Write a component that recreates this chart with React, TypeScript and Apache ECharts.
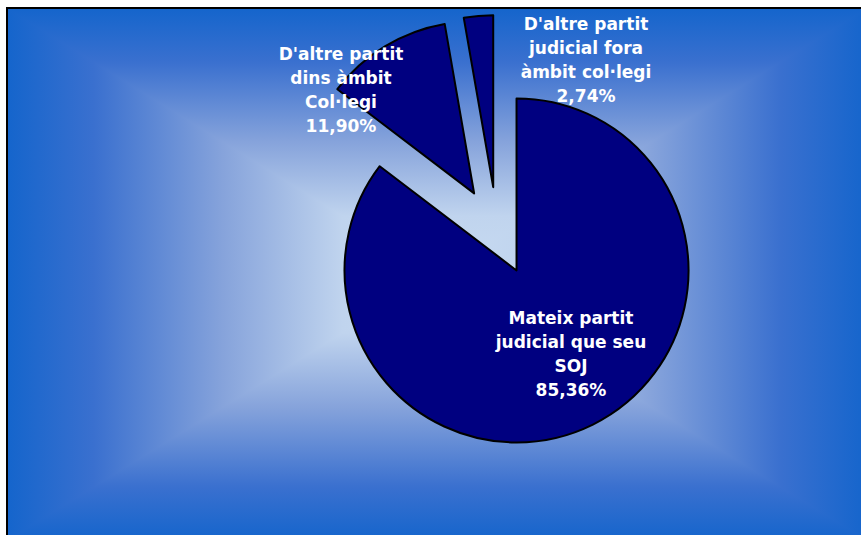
import React, { useEffect, useRef } from "react";
import * as echarts from "echarts";

const categories: string[] = [
  "Mateix partit\njudicial que seu\nSOJ",
  "D'altre partit\ndins àmbit\nCol·legi",
  "D'altre partit\njudicial fora\nàmbit col·legi",
];
const values: number[] = [85.36, 11.9, 2.74];

const W = 861;
const H = 535;

export default function App() {
  const ref = useRef<HTMLDivElement>(null);
  useEffect(() => {
    if (!ref.current) return;
    const chart = echarts.init(ref.current, undefined, { renderer: "svg" });
    const L = 8, T = 9, R = 866, B = 540;
    const cx = (L + R) / 2, cy = (T + B) / 2;
    const edge = "#1565cc";
    const stops = (rev: boolean) => {
      const s = [
        { offset: 0, color: edge },
        { offset: 0.2, color: "#3a70cf" },
        { offset: 0.5, color: "#86a3db" },
        { offset: 0.78, color: "#c0d4ee" },
        { offset: 1, color: "#c8dbf1" },
      ];
      return rev ? s.map((c) => ({ offset: 1 - c.offset, color: c.color })).reverse() : s;
    };
    const labelPos = [
      [571, 354],
      [341, 90],
      [586, 60],
    ];
    const labelTexts = categories.map(
      (c, i) => c + "\n" + values[i].toFixed(2).replace(".", ",") + "%"
    );
    chart.setOption({
      animation: false,
      graphic: [
        {
          type: "rect",
          z: -20,
          silent: true,
          shape: { x: L, y: T, width: cx - L, height: B - T },
          style: { fill: { type: "linear", x: 0, y: 0, x2: 1, y2: 0, colorStops: stops(false) } },
        },
        {
          type: "rect",
          z: -20,
          silent: true,
          shape: { x: cx, y: T, width: R - cx, height: B - T },
          style: { fill: { type: "linear", x: 0, y: 0, x2: 1, y2: 0, colorStops: stops(true) } },
        },
        {
          type: "polygon",
          z: -19,
          silent: true,
          shape: { points: [[L, T], [R, T], [cx, cy]] },
          style: { fill: { type: "linear", x: 0, y: 0, x2: 0, y2: 1, colorStops: stops(false) } },
        },
        {
          type: "polygon",
          z: -19,
          silent: true,
          shape: { points: [[L, B], [R, B], [cx, cy]] },
          style: { fill: { type: "linear", x: 0, y: 0, x2: 0, y2: 1, colorStops: stops(true) } },
        },
        {
          type: "rect",
          z: -18,
          silent: true,
          shape: { x: 7, y: 8, width: 900, height: 600 },
          style: { fill: "none", stroke: "#000", lineWidth: 2 },
        },
        ...labelTexts.map((t, i) => ({
          type: "text",
          z: 100,
          silent: true,
          x: labelPos[i][0],
          y: labelPos[i][1],
          style: {
            text: t,
            fill: "#ffffff",
            fontFamily: "DejaVu Sans",
            fontWeight: "bold",
            fontSize: 17,
            lineHeight: 24,
            align: "center",
            verticalAlign: "middle",
          },
        })),
      ],
      series: [
        {
          type: "pie",
          z: 2,
          center: [497, 231],
          radius: 172,
          startAngle: 90,
          clockwise: true,
          selectedMode: "multiple",
          selectedOffset: 44,
          avoidLabelOverlap: false,
          emphasis: { disabled: true, scale: false },
          itemStyle: { color: "#000080", borderColor: "#000", borderWidth: 2 },
          select: { itemStyle: { color: "#000080", borderColor: "#000", borderWidth: 2 } },
          label: { show: false },
          labelLine: { show: false },
          data: categories.map((c, i) => ({ name: c, value: values[i], selected: true })),
        },
      ],
    });
    return () => chart.dispose();
  }, []);
  return (
    <div
      ref={ref}
      style={{ position: "fixed", left: 0, top: 0, width: W, height: H, background: "#fff" }}
    />
  );
}
